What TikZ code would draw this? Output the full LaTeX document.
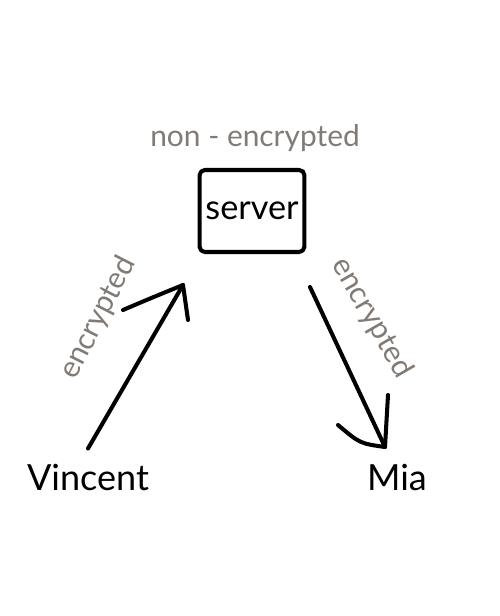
\documentclass[tikz,border=0pt]{standalone}
\usepackage{fontspec}
\setmainfont{Lato}
\usepackage{tikz}
\usetikzlibrary{positioning}

\definecolor{labelgray}{RGB}{130,122,116}

\begin{document}
\begin{tikzpicture}[line cap=round, line join=round,
    who/.style={font=\fontsize{20.5}{24}\selectfont},
    note/.style={font=\fontsize{17}{20}\selectfont, text=labelgray},
    pen/.style={line width=2.3pt}]
    \useasboundingbox (0,0) rectangle (10,12.32);

    \node[draw, pen, rounded corners=3pt, minimum width=2.04cm, minimum height=1.64cm,
          font=\fontsize{19.5}{23}\selectfont] (server) at (5.04, 8.10) {server};
    \node[note] (plain) at (5.10, 9.56) {non - encrypted};
    \node[who] (vincent) at (1.76, 2.76) {Vincent};
    \node[who] (mia) at (7.94, 2.76) {Mia};

    \coordinate (uptip) at (3.66, 6.62);
    \coordinate (downtip) at (7.70, 3.38);

    % Vincent -> server
    \draw[pen] (vincent.north) ++(0,0.2) -- (uptip);
    \draw[pen] (2.46, 6.12) .. controls (3.0, 6.35) .. (uptip) -- (3.76, 5.92);
    \node[note, rotate=63] at (1.96, 5.96) {encrypted};

    % server -> Mia
    \draw[pen] (6.20, 6.58) -- (downtip);
    \draw[pen] (6.76, 3.82) .. controls (7.2, 3.45) .. (downtip) -- (7.76, 4.42);
    \node[note, rotate=-60] at (7.44, 5.96) {encrypted};
\end{tikzpicture}
\end{document}
